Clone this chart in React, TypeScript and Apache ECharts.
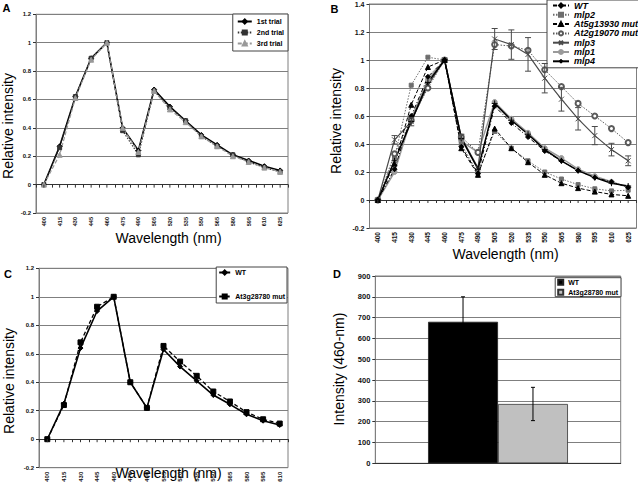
import React, { useEffect, useRef } from 'react';
import * as echarts from 'echarts';

const FONT = '"Liberation Sans", Arial, Helvetica, sans-serif';
const GRID_LINE = '#7f7f7f';
const AXIS_DARK = '#333';

// ---------- Data ----------
const wavelengthsAB = ['400', '415', '430', '445', '460', '475', '490', '505', '520', '535', '550', '565', '580', '595', '610', '625'];
const wavelengthsC = ['400', '415', '430', '445', '460', '475', '490', '505', '520', '535', '550', '565', '580', '595', '610'];

// Panel A
const trial1 = [0, 0.27, 0.62, 0.89, 1.0, 0.40, 0.24, 0.67, 0.55, 0.45, 0.35, 0.28, 0.21, 0.17, 0.13, 0.10];
const trial2 = [0, 0.26, 0.62, 0.89, 1.0, 0.38, 0.21, 0.66, 0.54, 0.45, 0.34, 0.27, 0.21, 0.16, 0.12, 0.09];
const trial3 = [0, 0.21, 0.61, 0.88, 1.0, 0.40, 0.23, 0.66, 0.53, 0.44, 0.34, 0.27, 0.20, 0.16, 0.12, 0.09];

// Panel B
const bWT = [0, 0.22, 0.60, 0.88, 1.0, 0.38, 0.19, 0.67, 0.55, 0.45, 0.35, 0.28, 0.21, 0.16, 0.13, 0.09];
const bMlp2 = [0, 0.30, 0.82, 1.02, 1.0, 0.40, 0.19, 0.49, 0.37, 0.28, 0.20, 0.15, 0.11, 0.08, 0.065, 0.07];
const bAt5g13930 = [0, 0.26, 0.68, 0.95, 1.0, 0.37, 0.18, 0.51, 0.37, 0.27, 0.18, 0.12, 0.085, 0.06, 0.04, 0.03];
const bAt2g19070 = [0, 0.33, 0.57, 0.80, 1.0, 0.45, 0.34, 1.11, 1.10, 1.07, 0.93, 0.81, 0.69, 0.60, 0.51, 0.41];
const bMlp3 = [0, 0.43, 0.56, 0.82, 1.0, 0.45, 0.23, 1.15, 1.11, 1.04, 0.87, 0.72, 0.58, 0.46, 0.36, 0.28];
const bMlp1 = [0, 0.20, 0.58, 0.86, 1.0, 0.42, 0.34, 0.70, 0.58, 0.48, 0.37, 0.30, 0.22, 0.17, 0.13, 0.09];
const bMlp4 = [0, 0.28, 0.56, 0.84, 1.0, 0.44, 0.22, 0.69, 0.57, 0.47, 0.36, 0.28, 0.21, 0.16, 0.12, 0.10];
const bMlp3Err = [null, 0.03, 0.03, null, null, 0.02, null, 0.075, 0.105, 0.12, 0.105, 0.085, 0.08, 0.065, 0.045, 0.035];

// Panel C
const cWT = [0, 0.25, 0.64, 0.90, 1.0, 0.40, 0.22, 0.63, 0.51, 0.41, 0.31, 0.245, 0.175, 0.13, 0.10];
const cMut = [0, 0.24, 0.68, 0.93, 1.0, 0.40, 0.22, 0.655, 0.545, 0.445, 0.335, 0.265, 0.19, 0.14, 0.11];

// Panel D
const dCategories = ['460-nm'];
const dWT = [680];
const dWTErr = [120];
const dMut = [285];
const dMutErr = [80];

// ---------- Helpers ----------
const X_SYMBOL = 'path://M0,0L10,10M10,0L0,10';
const PLUS_SYMBOL = 'path://M5,0L5,10M0,5L10,5';

function catAxis(data: string[], labelSize: number, title: string, titleGap: number, shift: number, titleColor = '#000') {
  return {
    type: 'category',
    data,
    position: 'bottom',
    boundaryGap: true,
    name: title,
    nameLocation: 'middle',
    nameGap: titleGap,
    nameTextStyle: { fontSize: 14, lineHeight: 14, fontFamily: FONT, color: titleColor, verticalAlign: 'top', padding: [0, 0, 0, shift] },
    axisLine: { show: true, onZero: true, onZeroAxisIndex: 0, lineStyle: { color: AXIS_DARK, width: 1 } },
    axisTick: { show: true, interval: 0, length: 3, lineStyle: { color: AXIS_DARK } },
    axisLabel: {
      interval: 0,
      rotate: 90,
      fontSize: labelSize,
      fontWeight: 'bold',
      fontFamily: FONT,
      color: '#111',
      margin: 4,
    },
    splitLine: { show: false },
  };
}

function valAxis(min: number, max: number, interval: number, labelSize: number) {
  return {
    type: 'value',
    min,
    max,
    interval,
    axisLine: { show: true, lineStyle: { color: GRID_LINE } },
    axisTick: { show: true, length: 3, lineStyle: { color: AXIS_DARK } },
    axisLabel: { fontSize: labelSize, fontWeight: 'bold', fontFamily: FONT, color: '#111', margin: 5 },
    splitLine: { show: true, lineStyle: { color: GRID_LINE, width: 1 } },
  };
}

function line(name: string, data: number[], color: string, type: any, width: number, symbol: string, size: number) {
  return {
    name,
    type: 'line',
    data,
    symbol,
    symbolSize: size,
    showSymbol: true,
    lineStyle: { color, type, width },
    itemStyle: { color, borderColor: color, borderWidth: 1 },
    emphasis: { disabled: true },
    z: 3,
  };
}

// minor tick marks under the zero line at each category centre
function centerTicks(cats: string[]) {
  return {
    type: 'custom',
    silent: true,
    z: 4,
    data: cats.map((_, i) => [i, 0]),
    encode: { x: 0, y: 1 },
    renderItem: (params: any, api: any) => {
      const p = api.coord([api.value(0), api.value(1)]);
      return {
        type: 'line',
        shape: { x1: p[0], y1: p[1], x2: p[0], y2: p[1] + 3 },
        style: { stroke: AXIS_DARK, lineWidth: 1 },
      };
    },
  };
}

function errorBars(centers: number[], halfs: (number | null)[], color: string, cap: number, offsetFrac: number) {
  const data: number[][] = [];
  centers.forEach((v, i) => {
    const h = halfs[i];
    if (h != null) data.push([i, v - h, v + h]);
  });
  return {
    type: 'custom',
    silent: true,
    z: 6,
    data,
    encode: { x: 0, y: [1, 2] },
    renderItem: (params: any, api: any) => {
      const i = api.value(0);
      const lo = api.coord([i, api.value(1)]);
      const hi = api.coord([i, api.value(2)]);
      const band = api.size([1, 0])[0];
      const x = lo[0] + band * offsetFrac;
      const style = { stroke: color, lineWidth: 1 };
      return {
        type: 'group',
        children: [
          { type: 'line', shape: { x1: x, y1: lo[1], x2: x, y2: hi[1] }, style },
          { type: 'line', shape: { x1: x - cap, y1: lo[1], x2: x + cap, y2: lo[1] }, style },
          { type: 'line', shape: { x1: x - cap, y1: hi[1], x2: x + cap, y2: hi[1] }, style },
        ],
      };
    },
  };
}

function text(t: string, x: number, y: number, size: number, bold: boolean, rot: number, align = 'center', valign = 'middle') {
  return {
    type: 'text',
    x,
    y,
    rotation: rot,
    silent: true,
    style: {
      text: t,
      fontSize: size,
      fontWeight: bold ? 'bold' : 'normal',
      fontFamily: FONT,
      fill: '#000',
      align,
      verticalAlign: valign,
    },
  };
}

function legendBase(extra: any) {
  return {
    orient: 'vertical',
    backgroundColor: '#fff',
    borderColor: '#444',
    borderWidth: 1,
    borderRadius: 0,
    selectedMode: false,
    ...extra,
  };
}

// ---------- Options ----------
const optionA = {
  animation: false,
  textStyle: { fontFamily: FONT },
  grid: { left: 36, top: 14.3, width: 252, height: 198.7, show: true, borderColor: GRID_LINE, borderWidth: 1 },
  xAxis: catAxis(wavelengthsAB, 5.5, 'Wavelength (nm)', 18, 13),
  yAxis: valAxis(-0.2, 1.2, 0.2, 6),
  legend: legendBase({
    right: 350,
    top: 14,
    itemWidth: 14,
    itemHeight: 5,
    itemGap: 4,
    padding: [4, 4, 4, 4],
    textStyle: { fontSize: 7, fontWeight: 'bold', fontFamily: FONT, color: '#000' },
    data: ['1st trial', '2nd trial', '3rd trial'],
  }),
  series: [
    centerTicks(wavelengthsAB),
    line('1st trial', trial1, '#000', 'solid', 1.6, 'diamond', 5),
    line('2nd trial', trial2, '#333', [1.5, 1.5], 1.2, 'rect', 4),
    line('3rd trial', trial3, '#999', [4, 2], 1.2, 'triangle', 5),
  ],
  graphic: [
    text('A', 2.5, 2.5, 11, true, 0, 'left', 'top'),
    text('Relative intensity', 8, 126, 14, false, Math.PI / 2),
  ],
};

const optionB = {
  animation: false,
  textStyle: { fontFamily: FONT },
  grid: { left: 369.5, top: 4, width: 267, height: 224, show: true, borderColor: GRID_LINE, borderWidth: 1 },
  xAxis: catAxis(wavelengthsAB, 6.5, 'Wavelength (nm)', 3, 5),
  yAxis: valAxis(-0.2, 1.4, 0.2, 7),
  legend: legendBase({
    left: 547,
    top: 0,
    itemWidth: 16,
    itemHeight: 5,
    itemGap: 0.3,
    padding: [1, 4, 2, 5],
    textStyle: { fontSize: 9, fontWeight: 'bold', fontStyle: 'italic', fontFamily: FONT, color: '#000' },
    data: ['WT', 'mlp2', 'At5g13930 mut', 'At2g19070 mut', 'mlp3', 'mlp1', 'mlp4'],
  }),
  series: [
    centerTicks(wavelengthsAB),
    line('mlp1', bMlp1, '#9a9a9a', 'solid', 1.5, 'circle', 5),
    line('mlp2', bMlp2, '#6e6e6e', [1.5, 1.5], 1, 'rect', 4),
    line('At2g19070 mut', bAt2g19070, '#5a5a5a', [1.5, 1.5], 1, 'emptyCircle', 5),
    line('mlp3', bMlp3, '#4a4a4a', 'solid', 1.2, X_SYMBOL, 5),
    line('mlp4', bMlp4, '#000', 'solid', 1.5, PLUS_SYMBOL, 6),
    line('At5g13930 mut', bAt5g13930, '#000', [4, 2], 1, 'triangle', 5),
    line('WT', bWT, '#000', [4, 2, 1, 2], 1, 'diamond', 5),
    errorBars(bMlp3, bMlp3Err, '#4a4a4a', 3, 0),
  ],
  graphic: [
    text('B', 330.5, 3, 11, true, 0, 'left', 'top'),
    text('Relative intensity', 336, 121, 14, false, Math.PI / 2),
  ],
};

const optionC = {
  animation: false,
  textStyle: { fontFamily: FONT },
  grid: {
    left: 39,
    top: 268.3,
    width: 249,
    height: 199.4,
    show: true,
    borderColor: GRID_LINE,
    borderWidth: 1,
    outerBoundsMode: 'none',
  },
  // axis keeps its (transparent) name so its layout stays as tested; the visible title is drawn below
  xAxis: catAxis(wavelengthsC, 6, 'Wavelength (nm)', -3, 10, 'rgba(0,0,0,0)'),
  yAxis: valAxis(-0.2, 1.2, 0.2, 6),
  legend: legendBase({
    right: 351,
    top: 267,
    itemWidth: 11,
    itemHeight: 5,
    itemGap: 17,
    padding: [2, 2, 3, 2],
    textStyle: { fontSize: 7, fontWeight: 'bold', fontFamily: FONT, color: '#000' },
    data: ['WT', 'At3g28780 mut'],
  }),
  series: [
    centerTicks(wavelengthsC),
    line('At3g28780 mut', cMut, '#000', [4, 2.5], 1.3, 'rect', 5),
    line('WT', cWT, '#000', 'solid', 1.6, 'diamond', 5),
  ],
  graphic: [
    text('C', 4, 268.3, 11, true, 0, 'left', 'top'),
    text('Relative intensity', 8.5, 381, 14, false, Math.PI / 2),
    text('Wavelength (nm)', 168.5, 473, 14, false, 0),
  ],
};

const optionD = {
  animation: false,
  textStyle: { fontFamily: FONT },
  grid: { left: 375.3, top: 276, width: 245.4, height: 187.3, show: true, borderColor: GRID_LINE, borderWidth: 1 },
  xAxis: {
    type: 'category',
    data: dCategories,
    axisLine: { show: true, lineStyle: { color: AXIS_DARK } },
    axisTick: { show: false },
    axisLabel: { show: false },
  },
  yAxis: valAxis(0, 900, 100, 7.5),
  legend: legendBase({
    right: 17,
    top: 277.7,
    icon: 'rect',
    itemWidth: 5,
    itemHeight: 5,
    itemGap: 3,
    padding: [1, 3, 1, 2],
    textStyle: { fontSize: 7, fontWeight: 'bold', fontFamily: FONT, color: '#000' },
    data: ['WT', 'At3g28780 mut'],
  }),
  series: [
    {
      name: 'WT',
      type: 'bar',
      data: dWT,
      barGap: '0%',
      barCategoryGap: '43%',
      itemStyle: { color: '#000', borderColor: '#222', borderWidth: 0.8 },
      emphasis: { disabled: true },
    },
    {
      name: 'At3g28780 mut',
      type: 'bar',
      data: dMut,
      barGap: '0%',
      barCategoryGap: '43%',
      itemStyle: { color: '#c0c0c0', borderColor: '#333', borderWidth: 0.8 },
      emphasis: { disabled: true },
    },
    errorBars(dWT, dWTErr, '#000', 2, -0.1425),
    errorBars(dMut, dMutErr, '#000', 2, 0.1425),
  ],
  graphic: [
    text('D', 333, 268.3, 11, true, 0, 'left', 'top'),
    text('Intensity (460-nm)', 339, 369, 14, false, Math.PI / 2),
  ],
};

function Panel({ option }: { option: any }) {
  const ref = useRef<HTMLDivElement>(null);
  useEffect(() => {
    const chart = echarts.init(ref.current as HTMLDivElement, null, { renderer: 'svg' });
    chart.setOption(option);
    return () => chart.dispose();
  }, [option]);
  return <div ref={ref} style={{ position: 'absolute', left: 0, top: 0, width: 638, height: 482 }} />;
}

export default function App() {
  return (
    <div style={{ position: 'fixed', left: 0, top: 0, width: 638, height: 482, background: '#fff', overflow: 'hidden' }}>
      <Panel option={optionA} />
      <Panel option={optionB} />
      <Panel option={optionC} />
      <Panel option={optionD} />
    </div>
  );
}
